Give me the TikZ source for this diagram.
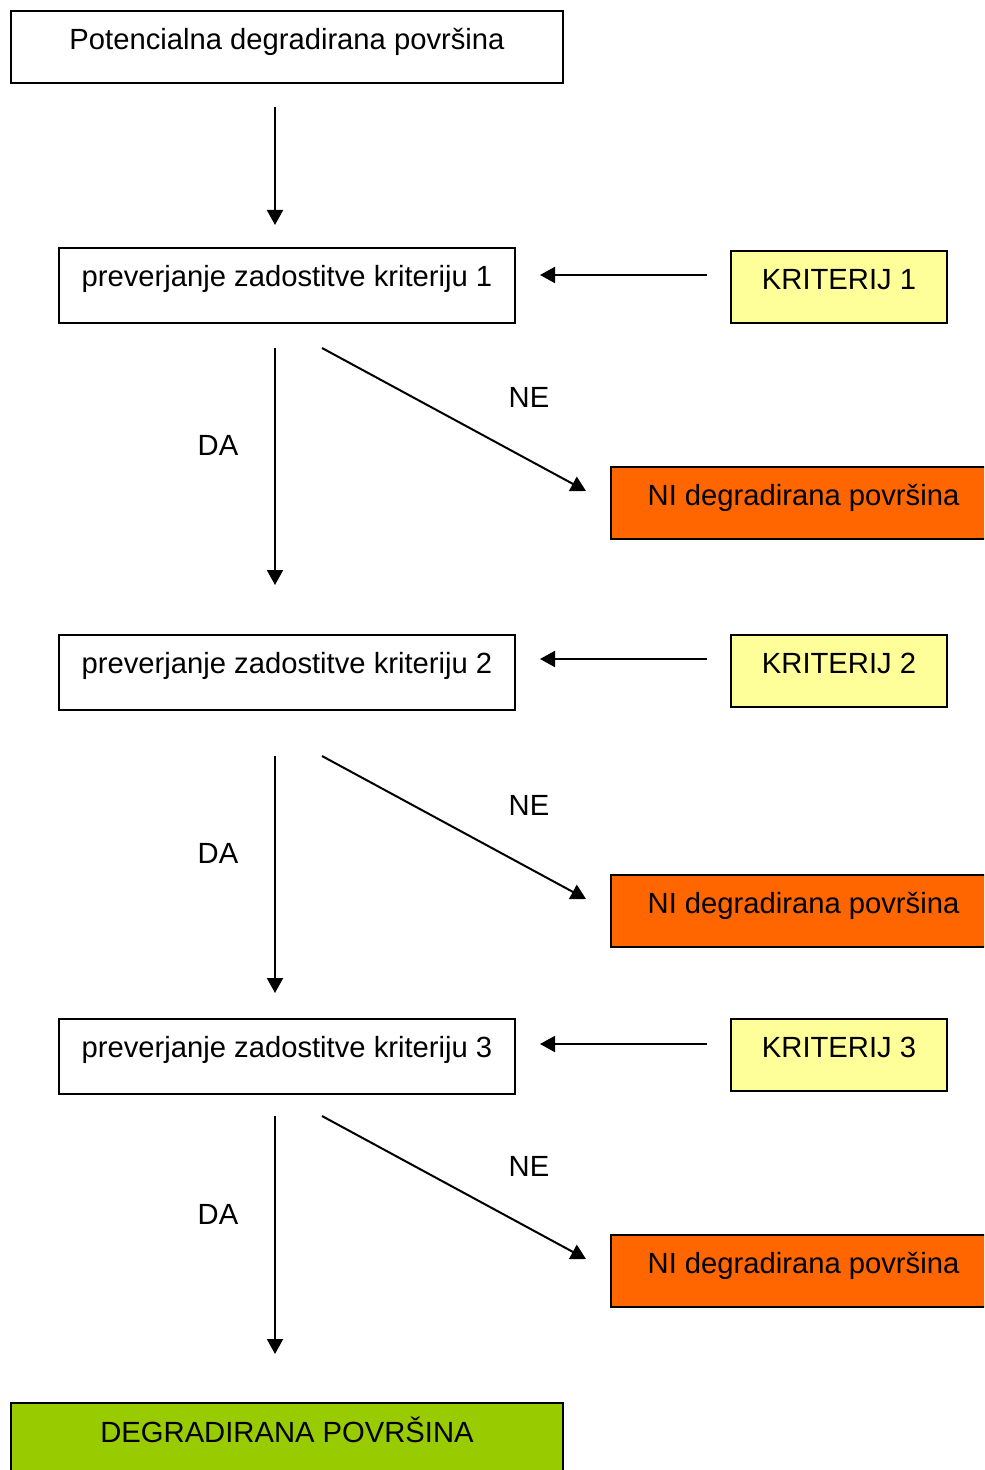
\documentclass[tikz,border=0pt]{standalone}
\usepackage{fontspec}
\setmainfont{Liberation Sans}
\usetikzlibrary{arrows.meta, calc}

\definecolor{kritYellow}{HTML}{FFFF99}
\definecolor{niOrange}{HTML}{FF6600}
\definecolor{daGreen}{HTML}{99CC00}

\begin{document}
\begin{tikzpicture}[>={Triangle[length=7.5pt, width=8pt]}, x=0.5pt, y=-0.5pt, line width=1pt,
    font=\fontsize{14.6pt}{17pt}\selectfont,
    box/.style={draw, anchor=north west, inner sep=0pt, text height=19.25pt, text depth=16.75pt},
    checkbox/.style={box, minimum width=228pt, text depth=18.25pt},
    kritbox/.style={box, fill=kritYellow, minimum width=108pt},
    nibox/.style={box, fill=niOrange, minimum width=192.5pt}]
    % --- PAGE ---
    % the picture is cut at the right and bottom edge
    \clip (0,0) rectangle (984,1470);

    % --- NODES ---
    \node[box, minimum width=276pt] (start) at (10,10) {Potencialna degradirana površina};

    \node[checkbox] (c1) at (58,247) {preverjanje zadostitve kriteriju 1};
    \node[checkbox] (c2) at (58,634) {preverjanje zadostitve kriteriju 2};
    \node[checkbox] (c3) at (58,1018) {preverjanje zadostitve kriteriju 3};

    \node[kritbox] (k1) at (730,250) {KRITERIJ 1};
    \node[kritbox] (k2) at (730,634) {KRITERIJ 2};
    \node[kritbox] (k3) at (730,1018) {KRITERIJ 3};

    \node[nibox] (n1) at (610,466) {NI degradirana površina};
    \node[nibox] (n2) at (610,874) {NI degradirana površina};
    \node[nibox] (n3) at (610,1234) {NI degradirana površina};

    \node[box, fill=daGreen, minimum width=276pt, text height=19.75pt, text depth=40pt] (end) at (10,1402) {DEGRADIRANA POVRŠINA};

    % --- ARROWS ---
    \draw[->] ($(start.south)+(-12,23)$) -- ($(c1.north)+(-12,-22)$);

    % criteria feed the checks
    \draw[->] ($(k1.west)+(-23,-12)$) -- ($(c1.east)+(24,-10.5)$);
    \draw[->] ($(k2.west)+(-23,-12)$) -- ($(c2.east)+(24,-13.5)$);
    \draw[->] ($(k3.west)+(-23,-11)$) -- ($(c3.east)+(24,-12.5)$);

    % DA goes down
    \draw[->] ($(c1.south)+(-12,24)$) -- ($(c2.north)+(-12,-49)$);
    \draw[->] ($(c2.south)+(-12,45)$) -- ($(c3.north)+(-12,-25)$);
    \draw[->] ($(c3.south)+(-12,21)$) -- ($(end.north)+(-12,-48)$);

    % NE goes to the side
    \draw[->] ($(c1.south)+(35,24)$) -- ($(n1.west)+(-24,-12)$);
    \draw[->] ($(c2.south)+(35,45)$) -- ($(n2.west)+(-24,-12)$);
    \draw[->] ($(c3.south)+(35,21)$) -- ($(n3.west)+(-24,-12)$);

    % --- LABELS ---
    \node (da1) at (218,445) {DA};
    \node (da2) at (218,853) {DA};
    \node (da3) at (218,1214) {DA};
    \node (ne1) at (529,397) {NE};
    \node (ne2) at (529,805) {NE};
    \node (ne3) at (529,1166) {NE};

\end{tikzpicture}
\end{document}
